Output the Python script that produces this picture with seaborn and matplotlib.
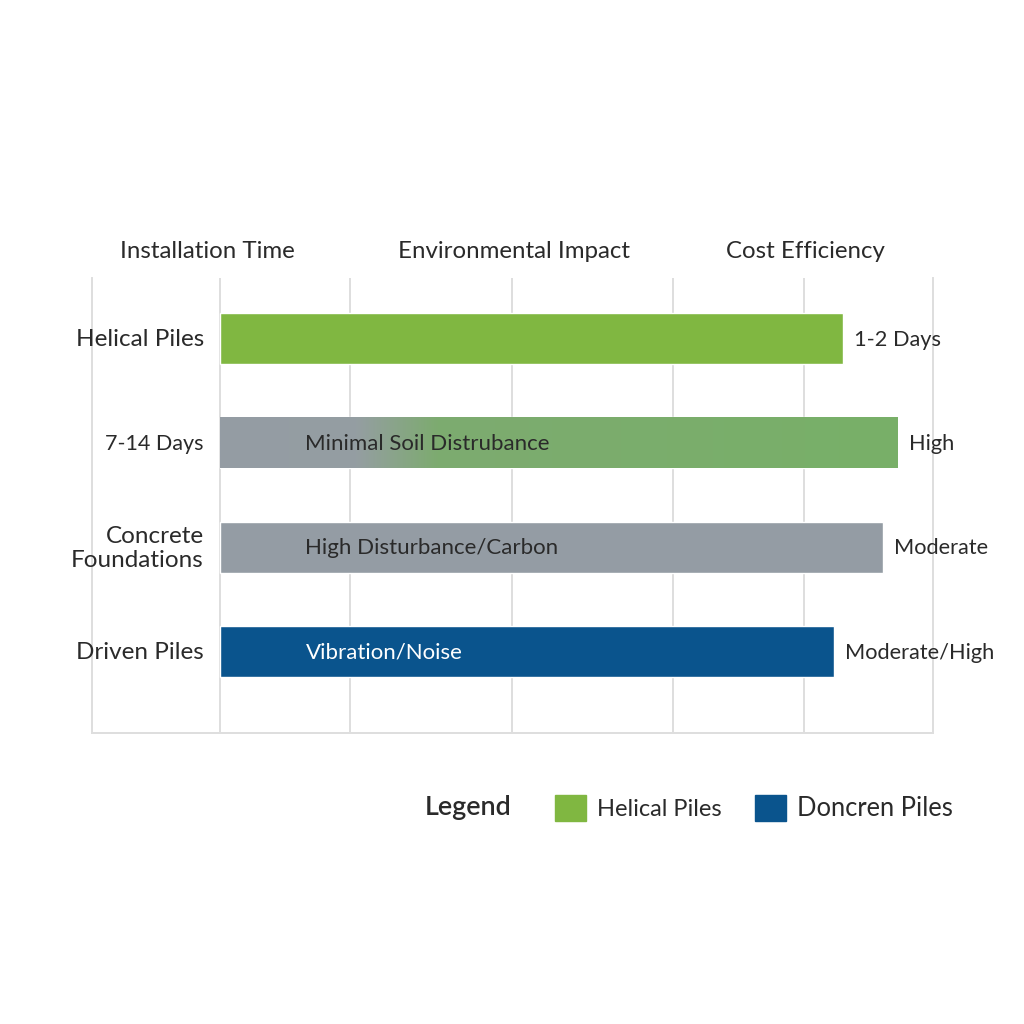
import numpy as np
import matplotlib
matplotlib.use("Agg")
import matplotlib.pyplot as plt
import matplotlib.transforms as mtransforms
from matplotlib.colors import LinearSegmentedColormap
from matplotlib.patches import Patch
import pandas as pd
import seaborn as sns

# chart data
rows = ["Helical Piles", "7-14 Days", "Concrete\nFoundations", "Driven Piles"]
lengths = [91.9, 100.0, 97.8, 90.6]
inside_labels = ["", "Minimal Soil Distrubance", "High Disturbance/Carbon", "Vibration/Noise"]
end_labels = ["1-2 Days", "High", "Moderate", "Moderate/High"]
columns = ["Installation Time", "Environmental Impact", "Cost Efficiency"]
legend_labels = ["Helical Piles", "Doncren Piles"]

green = "#80b741"
gray = "#949ca4"
blue = "#0a548d"
txt = "#2a2a2a"
bar_colors = [green, gray, gray, blue]
inside_colors = [txt, txt, txt, "white"]
row_sizes = [17.5, 15.5, 17.5, 17.5]

sns.set_theme(style="white")
plt.rcParams["font.family"] = ["Lato", "DejaVu Sans"]

df = pd.DataFrame({"row": rows, "value": lengths})

fig = plt.figure(figsize=(10.24, 10.24), dpi=100)
ax = fig.add_axes([92 / 1024, 1 - 733 / 1024, 841 / 1024, 455 / 1024])

sns.barplot(data=df, x="value", y="row", hue="row", order=rows, hue_order=rows,
            palette=bar_colors, orient="h", width=0.49, legend=False,
            saturation=1, ax=ax, zorder=2)

# vertical guide lines
for gx in [0, 19.2, 43.1, 66.8, 86.1]:
    ax.axvline(gx, color="#dedede", lw=1.4, zorder=0)

for side in ["left", "right", "bottom"]:
    ax.spines[side].set_color("#dedede")
    ax.spines[side].set_linewidth(1.4)
ax.spines["top"].set_visible(False)
ax.set_xticks([])
ax.set_yticks([])
ax.set_xlabel("")
ax.set_ylabel("")

# gradient on the second bar (gray fading into green)
bar = ax.patches[1]
x0, y0 = bar.get_x(), bar.get_y()
w, h = bar.get_width(), bar.get_height()
cmap = LinearSegmentedColormap.from_list(
    "fade", [(0, gray), (0.2, "#959ea2"), (0.32, "#7dab70"), (1, "#78b068")])
grad = np.linspace(0, 1, 256).reshape(1, -1)
im = ax.imshow(grad, cmap=cmap, aspect="auto", extent=[x0, x0 + w, y0 + h, y0],
               zorder=2.5)
im.set_clip_path(bar)
ax.set_xlim(-18.9, 105.2)
ax.set_ylim(3.78, -0.58)

for i, name in enumerate(rows):
    ax.text(-2.4, i + 0.01, name, ha="right", va="center", fontsize=row_sizes[i],
            color=txt, linespacing=1.2, multialignment="right", zorder=3)
    if inside_labels[i]:
        ax.text(12.6, i + 0.01, inside_labels[i], ha="left", va="center",
                fontsize=16, color=inside_colors[i], zorder=3)
    ax.text(lengths[i] + 1.6, i + 0.01, end_labels[i], ha="left", va="center",
            fontsize=15.7, color=txt, zorder=3)

trans = mtransforms.blended_transform_factory(ax.transData, ax.transAxes)
for cx, col in zip([-1.9, 43.4, 86.4], columns):
    ax.text(cx, 1.059, col, transform=trans, ha="center", va="center",
            fontsize=17.3, color=txt)

fig.text(425 / 1024, 1 - 808 / 1024, "Legend", ha="left", va="center",
         fontsize=19.4, fontweight="semibold", color=txt)
handles = [Patch(color=green), Patch(color=blue)]
leg = fig.legend(handles, legend_labels, ncols=2,
                 loc="center left", bbox_to_anchor=(555 / 1024, 1 - 808 / 1024),
                 frameon=False, fontsize=17, handlelength=1.31, handleheight=1.35,
                 handletextpad=0.47, columnspacing=1.4, borderpad=0,
                 borderaxespad=0)
for t in leg.get_texts():
    t.set_color(txt)
leg.get_texts()[1].set_fontsize(18.4)

fig.savefig("out.png", dpi=100, facecolor="white")
